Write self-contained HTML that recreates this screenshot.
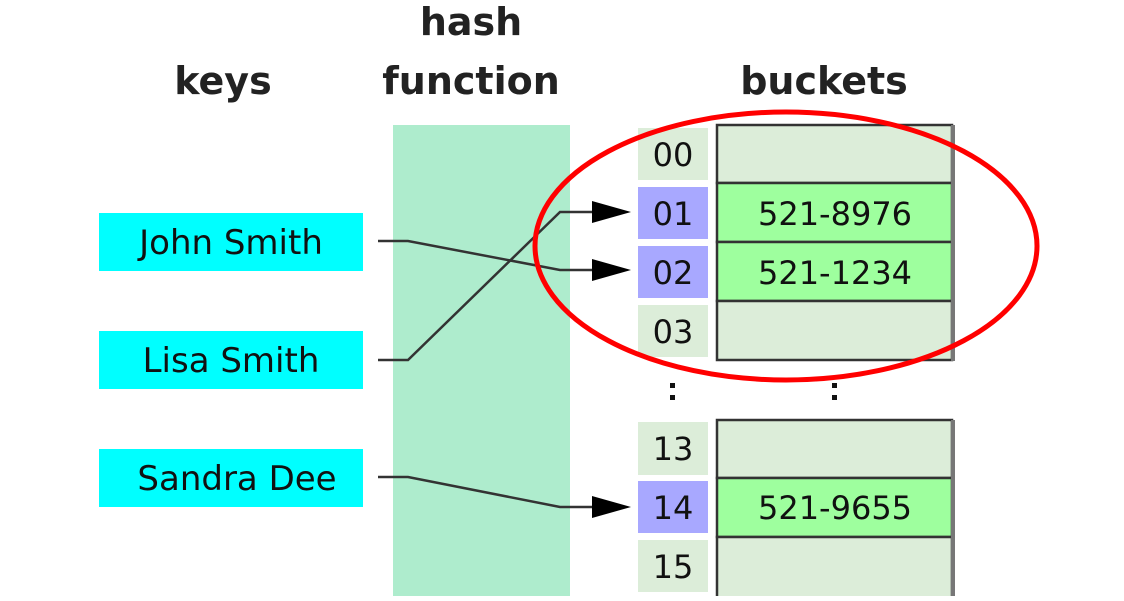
<!DOCTYPE html>
<html><head><style>body{margin:0;background:#fff}</style></head><body>
<svg width="1124" height="596" xmlns="http://www.w3.org/2000/svg" font-family="DejaVu Sans, sans-serif">
<g font-weight="bold" font-size="38" fill="#222" text-anchor="middle">
<text x="223" y="94">keys</text>
<text x="471" y="35">hash</text>
<text x="471" y="94">function</text>
<text x="824" y="94">buckets</text>
</g>
<rect x="393" y="125" width="177" height="471" fill="#aeeccd"/>
<g fill="#00ffff"><rect x="99" y="213" width="264" height="58"/><rect x="99" y="331" width="264" height="58"/><rect x="99" y="449" width="264" height="58"/></g>
<g font-size="34" fill="#111" text-anchor="middle">
<text x="231" y="254">John Smith</text><text x="231" y="372">Lisa Smith</text><text x="237" y="490">Sandra Dee</text>
</g>
<g fill="#dcedd9"><rect x="638" y="128" width="70" height="52"/><rect x="638" y="305" width="70" height="52"/><rect x="638" y="422" width="70" height="53"/><rect x="638" y="540" width="70" height="52"/></g>
<g fill="#a8a8ff"><rect x="638" y="187" width="70" height="52"/><rect x="638" y="246" width="70" height="52"/><rect x="638" y="481" width="70" height="52"/></g>
<g font-size="32" fill="#111" text-anchor="middle">
<text x="673" y="166">00</text><text x="673" y="225">01</text><text x="673" y="284">02</text><text x="673" y="343">03</text>
<text x="673" y="460">13</text><text x="673" y="519">14</text><text x="673" y="578">15</text>
</g>
<g stroke="#333" stroke-width="2.5">
<rect x="717" y="125" width="235" height="58" fill="#dcedd9"/>
<rect x="717" y="183" width="235" height="59" fill="#9eff9e"/>
<rect x="717" y="242" width="235" height="59" fill="#9eff9e"/>
<rect x="717" y="301" width="235" height="59" fill="#dcedd9"/>
<rect x="717" y="420" width="235" height="58" fill="#dcedd9"/>
<rect x="717" y="478" width="235" height="59" fill="#9eff9e"/>
<rect x="717" y="537" width="235" height="62" fill="#dcedd9"/>
</g>
<g stroke="#777" stroke-width="4"><line x1="953" y1="125" x2="953" y2="361"/><line x1="953" y1="420" x2="953" y2="596"/></g>
<g font-size="32" fill="#111" text-anchor="middle">
<text x="835" y="225">521-8976</text><text x="835" y="284">521-1234</text><text x="835" y="519">521-9655</text>
</g>
<g fill="#111"><rect x="670" y="383" width="5" height="5"/><rect x="670" y="395" width="5" height="5"/><rect x="832" y="383" width="5" height="5"/><rect x="832" y="395" width="5" height="5"/></g>
<g stroke="#333" stroke-width="2.5" fill="none">
<polyline points="378,241 408,241 560,270 600,270"/>
<polyline points="378,360 408,360 560,212 600,212"/>
<polyline points="378,477 408,477 560,507 600,507"/>
</g>
<g fill="#000">
<polygon points="592,201 631,212 592,223"/><polygon points="592,259 631,270 592,281"/><polygon points="592,496 631,507 592,518"/>
</g>
<ellipse cx="786" cy="246" rx="251" ry="134" fill="none" stroke="#f00" stroke-width="5"/>
</svg>
</body></html>
